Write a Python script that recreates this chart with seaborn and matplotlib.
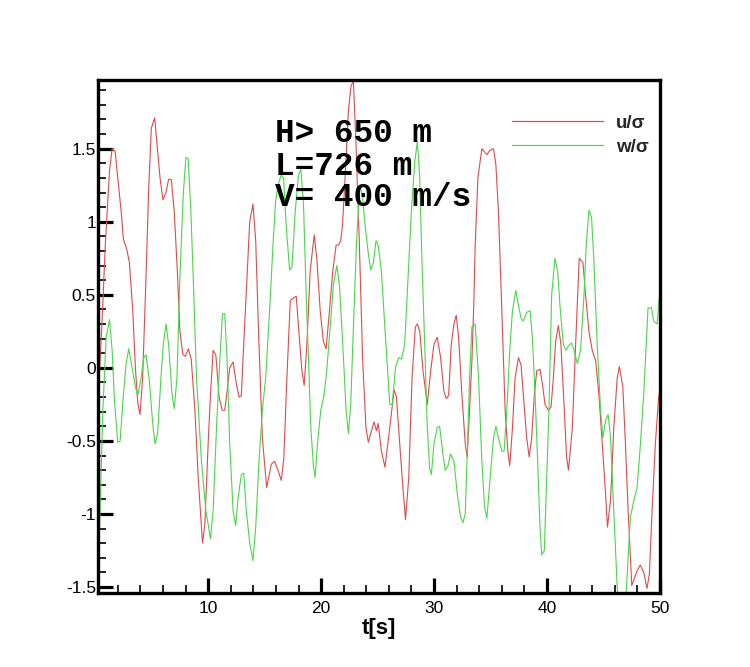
import numpy as np
import pandas as pd
import matplotlib
matplotlib.use("Agg")
import matplotlib.pyplot as plt
import seaborn as sns
from matplotlib.ticker import MultipleLocator

# ---- data ----
t_u = [0.3, 0.6, 0.89, 1.27, 1.5, 1.77, 2.3, 2.5, 2.8, 3.03, 3.33, 3.56, 3.77, 3.97, 4.2, 4.5, 4.74, 4.97,
       5.27, 5.53, 5.74, 6.0, 6.27, 6.5, 6.74, 7.0, 7.3, 7.5, 7.77, 8.0, 8.25, 8.5, 8.83, 9.12, 9.5, 9.71,
       10.0, 10.21, 10.44, 10.68, 10.97, 11.24, 11.47, 11.68, 11.91, 12.21, 12.5, 12.74, 12.94, 13.15,
       13.44, 13.68, 13.97, 14.21, 14.5, 14.8, 15.18, 15.59, 15.88, 16.18, 16.47, 16.7, 16.97, 17.27,
       17.56, 17.8, 18.0, 18.3, 18.5, 18.74, 19.03, 19.39, 19.62, 19.92, 20.2, 20.44, 20.74, 21.03,
       21.33, 21.53, 21.74, 21.9, 22.12, 22.42, 22.65, 22.86, 23.09, 23.39, 23.68, 23.97, 24.18, 24.47,
       24.68, 24.9, 25.05, 25.34, 25.65, 26.08, 26.46, 26.67, 26.96, 27.26, 27.47, 27.76, 28.05, 28.34,
       28.52, 28.73, 29.02, 29.4, 29.7, 29.99, 30.28, 30.58, 30.87, 31.08, 31.29, 31.52, 31.76, 31.96,
       32.17, 32.46, 32.76, 32.93, 33.14, 33.35, 33.52, 33.64, 33.88, 34.23, 34.67, 34.97, 35.26, 35.47,
       35.7, 36.0, 36.29, 36.53, 36.7, 36.94, 37.17, 37.47, 37.7, 37.9, 38.2, 38.42, 38.64, 38.88, 39.09,
       39.38, 39.59, 39.82, 40.11, 40.35, 40.56, 40.76, 41.0, 41.23, 41.53, 41.73, 41.9, 42.24, 42.53,
       42.85, 43.18, 43.41, 43.71, 44.0, 44.3, 44.59, 44.89, 45.18, 45.35, 45.62, 45.91, 46.21, 46.4,
       46.71, 46.94, 47.18, 47.5, 47.97, 48.25, 48.56, 48.85, 49.06, 49.3, 49.59, 49.88, 50.0]
u_sigma = [-0.16, 0.3, 0.83, 1.35, 1.5, 1.48, 1.07, 0.88, 0.81, 0.72, 0.39, 0.0, -0.24, -0.32, -0.07, 0.62,
           1.23, 1.64, 1.71, 1.48, 1.30, 1.15, 1.20, 1.29, 1.29, 1.07, 0.62, 0.25, 0.09, 0.08, 0.13, 0.06,
           -0.29, -0.75, -1.2, -1.07, -0.52, -0.18, 0.12, 0.09, -0.2, -0.29, -0.29, -0.16, 0.0, 0.04, -0.11,
           -0.2, -0.19, 0.16, 0.62, 1.0, 1.12, 0.87, 0.16, -0.48, -0.82, -0.66, -0.64, -0.70, -0.77, -0.62,
           -0.07, 0.46, 0.48, 0.49, 0.28, -0.02, -0.12, 0.16, 0.66, 0.91, 0.75, 0.39, 0.18, 0.13, 0.39, 0.66,
           0.84, 0.84, 0.87, 0.98, 1.3, 1.76, 1.93, 1.96, 1.53, 0.84, 0.05, -0.41, -0.51, -0.43, -0.37,
           -0.43, -0.38, -0.57, -0.68, -0.41, -0.15, -0.2, -0.52, -0.84, -1.04, -0.75, -0.07, 0.28, 0.30,
           0.25, -0.02, -0.25, -0.02, 0.16, 0.21, 0.07, -0.16, -0.21, -0.19, 0.16, 0.30, 0.36, 0.21, -0.18,
           -0.52, -0.61, -0.29, 0.05, 0.45, 0.84, 1.3, 1.5, 1.46, 1.49, 1.5, 1.39, 1.07, 0.39, -0.29, -0.57,
           -0.67, -0.41, -0.07, 0.07, 0.02, -0.18, -0.48, -0.61, -0.48, -0.18, -0.02, -0.01, -0.11, -0.25,
           -0.29, -0.27, -0.07, 0.18, 0.29, 0.16, -0.29, -0.61, -0.70, -0.41, 0.16, 0.75, 0.72, 0.5, 0.25,
           0.12, 0.05, -0.18, -0.52, -0.86, -1.09, -0.91, -0.41, -0.07, 0.01, -0.13, -0.52, -0.98, -1.49,
           -1.39, -1.35, -1.40, -1.51, -1.41, -0.98, -0.52, -0.2, -0.15]

t_w = [0.3, 0.38, 0.68, 0.97, 1.27, 1.5, 1.71, 2.0, 2.21, 2.5, 2.74, 2.97, 3.27, 3.56, 3.77, 4.06, 4.3, 4.5,
       4.8, 5.09, 5.3, 5.53, 5.82, 6.03, 6.27, 6.5, 6.8, 7.0, 7.24, 7.5, 7.8, 8.03, 8.24, 8.47, 8.68, 8.97,
       9.41, 9.8, 10.0, 10.21, 10.44, 10.74, 11.03, 11.27, 11.47, 11.68, 11.91, 12.21, 12.44, 12.65,
       12.94, 13.15, 13.38, 13.68, 13.97, 14.21, 14.5, 14.8, 15.09, 15.44, 15.74, 15.97, 16.18, 16.47,
       16.68, 16.92, 17.21, 17.42, 17.71, 18.0, 18.21, 18.44, 18.68, 18.89, 19.09, 19.33, 19.47, 19.68,
       19.97, 20.27, 20.5, 20.8, 21.09, 21.39, 21.62, 21.92, 22.21, 22.42, 22.62, 22.86, 23.15, 23.44,
       23.68, 23.89, 24.18, 24.39, 24.62, 24.86, 25.05, 25.34, 25.64, 25.93, 26.08, 26.3, 26.58, 26.87,
       27.11, 27.4, 27.7, 27.99, 28.29, 28.52, 28.73, 28.93, 29.17, 29.4, 29.61, 29.76, 29.99, 30.28,
       30.49, 30.78, 30.99, 31.23, 31.46, 31.76, 32.05, 32.34, 32.55, 32.76, 32.93, 33.14, 33.35, 33.64,
       33.94, 34.23, 34.47, 34.67, 34.97, 35.26, 35.47, 35.7, 36.0, 36.2, 36.44, 36.73, 36.94, 37.23,
       37.47, 37.7, 37.9, 38.2, 38.5, 38.7, 38.94, 39.17, 39.38, 39.53, 39.76, 39.97, 40.17, 40.41, 40.7,
       40.94, 41.14, 41.44, 41.67, 41.89, 42.18, 42.39, 42.68, 42.97, 43.27, 43.47, 43.71, 43.94, 44.15,
       44.44, 44.74, 44.94, 45.18, 45.41, 45.62, 45.91, 46.21, 46.6, 47.0, 47.38, 47.68, 47.97, 48.27,
       48.56, 48.94, 49.24, 49.44, 49.74, 49.94, 50.0]
w_sigma = [-1.2, -1.12, -0.29, 0.21, 0.33, 0.12, -0.23, -0.51, -0.50, -0.18, 0.03, 0.13, 0.0, -0.13, -0.19,
           -0.07, 0.07, 0.09, -0.09, -0.38, -0.52, -0.45, -0.07, 0.16, 0.30, 0.16, -0.18, -0.28, -0.07, 0.62,
           1.19, 1.44, 1.43, 1.07, 0.62, -0.07, -0.64, -0.98, -1.07, -1.17, -0.98, -0.41, 0.05, 0.37, 0.37,
           0.05, -0.52, -0.98, -1.08, -0.89, -0.73, -0.72, -0.98, -1.2, -1.32, -1.09, -0.64, -0.29, -0.07,
           0.39, 0.84, 1.14, 1.25, 1.32, 1.3, 0.96, 0.67, 0.69, 1.07, 1.32, 1.36, 1.12, 0.50, 0.05, -0.41,
           -0.68, -0.75, -0.52, -0.29, -0.18, -0.02, 0.28, 0.57, 0.70, 0.57, 0.16, -0.29, -0.45, -0.25, 0.28,
           0.89, 1.25, 1.16, 0.98, 0.78, 0.67, 0.72, 0.87, 0.84, 0.66, 0.28, -0.07, -0.25, -0.25, 0.0, 0.07,
           0.06, 0.16, 0.62, 1.07, 1.41, 1.55, 1.3, 0.73, 0.16, -0.41, -0.69, -0.73, -0.52, -0.41, -0.40,
           -0.59, -0.70, -0.67, -0.59, -0.64, -0.86, -1.02, -1.06, -1.0, -0.61, -0.07, 0.28, 0.30, -0.07,
           -0.64, -0.95, -1.03, -0.75, -0.48, -0.40, -0.48, -0.57, -0.57, -0.29, 0.16, 0.39, 0.53, 0.43, 0.34,
           0.32, 0.38, 0.39, 0.21, -0.18, -0.64, -1.09, -1.28, -1.25, -0.75, -0.29, 0.50, 0.75, 0.66, 0.43,
           0.16, 0.12, 0.15, 0.17, 0.12, 0.03, 0.12, 0.5, 0.84, 1.08, 1.03, 0.73, 0.16, -0.29, -0.48, -0.36,
           -0.32, -0.48, -0.98, -1.5, -1.85, -1.55, -1.02, -0.91, -0.82, -0.52, -0.18, 0.41, 0.41, 0.32, 0.30,
           0.48, 0.5]

series_names = ["u/σ", "w/σ"]
series_colors = ["#e44848", "#48d848"]
x_ticks = [10, 20, 30, 40, 50]
y_ticks = [-1.5, -1, -0.5, 0, 0.5, 1, 1.5]
y_ticklabels = ["-1.5", "-1", "-0.5", "0", "0.5", "1", "1.5"]
info_lines = ["H> 650 m", "L=726 m", "V= 400 m/s"]
x_label = "t[s]"

df = pd.concat([
    pd.DataFrame({"t": t_u, "v": u_sigma, "series": series_names[0]}),
    pd.DataFrame({"t": t_w, "v": w_sigma, "series": series_names[1]}),
], ignore_index=True)

sns.set_theme(style="white")
plt.rcParams["font.family"] = ["Liberation Sans", "DejaVu Sans"]

W, H = 750, 667
fig = plt.figure(figsize=(W / 100, H / 100), dpi=100)
L, R, B, T = 98, 660, 593, 80
ax = fig.add_axes([L / W, 1 - B / H, (R - L) / W, (B - T) / H])

sns.lineplot(data=df, x="t", y="v", hue="series", palette=dict(zip(series_names, series_colors)),
             estimator=None, sort=False, linewidth=0.8, ax=ax)

ax.set_xlim(0.25, 50)
ax.set_ylim(-1.541, 1.97)
ax.set_xticks(x_ticks)
ax.set_xticklabels([str(x) for x in x_ticks])
ax.set_yticks(y_ticks)
ax.set_yticklabels(y_ticklabels)
ax.xaxis.set_minor_locator(MultipleLocator(2))
ax.yaxis.set_minor_locator(MultipleLocator(0.1))
ax.tick_params(axis="both", which="major", direction="in", length=11, width=2.3, color="black",
               labelsize=12.5, labelcolor="black", bottom=True, left=True, top=False, right=False)
ax.tick_params(axis="both", which="minor", direction="in", length=6, width=1.2, color="black",
               bottom=True, left=True, top=False, right=False)
ax.tick_params(axis="x", which="major", pad=6)
ax.tick_params(axis="y", which="major", pad=1.5)
for s in ax.spines.values():
    s.set_visible(True)
    s.set_color("black")
    s.set_linewidth(2.4)

ax.set_xlabel(x_label, fontsize=16, fontweight="bold", labelpad=1, color="black")
ax.set_ylabel("")

# info text
tx = (275 - L) / (R - L)
for line, yb in zip(info_lines, [141.5, 175.0, 206.5]):
    ax.text(tx, (B - yb) / (B - T), line, transform=ax.transAxes, family="Liberation Mono",
            fontweight="bold", fontsize=23.5, va="baseline", ha="left", color="black")

leg = ax.legend(loc="upper right", bbox_to_anchor=((656 - L) / (R - L), (B - 107) / (B - T)),
                frameon=False, fontsize=13.5, handlelength=4.85, handletextpad=0.7,
                labelspacing=0.37, borderaxespad=0)
for txt in leg.get_texts():
    txt.set_fontweight("bold")
for h in leg.get_lines():
    h.set_linewidth(0.9)

fig.savefig("out.png", dpi=100)
